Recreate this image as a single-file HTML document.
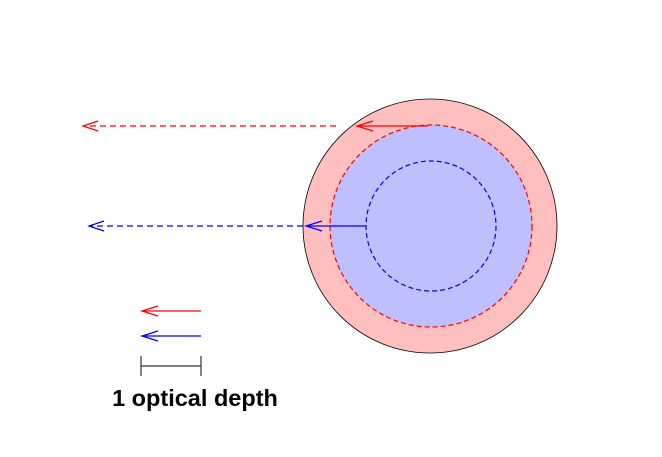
<!DOCTYPE html>
<html><head><style>body{margin:0;background:#fff}svg{display:block}</style></head>
<body>
<svg width="662" height="457" viewBox="0 0 662 457" xmlns="http://www.w3.org/2000/svg">
<circle cx="430" cy="226" r="127" fill="#ffbfbf" stroke="#000" stroke-width="0.8"/>
<circle cx="431" cy="226" r="101" fill="#bfbfff" stroke="#f00" stroke-width="1.2" stroke-dasharray="5,3"/>
<circle cx="431" cy="226" r="65" fill="none" stroke="#00f" stroke-width="1.2" stroke-dasharray="5,3"/>
<g fill="none" stroke-width="1.2">
<line x1="428" y1="126" x2="357" y2="126" stroke="#f00"/>
<polyline points="373,121 357,126 373,131" stroke="#f00"/>
<line x1="336" y1="126" x2="83" y2="126" stroke="#f00" stroke-dasharray="6,4"/>
<polyline points="98,121 83,126 98,131" stroke="#f00"/>
<line x1="366" y1="226" x2="306" y2="226" stroke="#00f"/>
<polyline points="322,221 306,226 322,231" stroke="#00f"/>
<line x1="303" y1="226" x2="89" y2="226" stroke="#00f" stroke-dasharray="6,4"/>
<polyline points="104,221 89,226 104,231" stroke="#00f"/>
<line x1="201" y1="311" x2="142" y2="311" stroke="#f00"/>
<polyline points="158,306 142,311 158,316" stroke="#f00"/>
<line x1="201" y1="336" x2="142" y2="336" stroke="#00f"/>
<polyline points="158,331 142,336 158,341" stroke="#00f"/>
<line x1="141" y1="366" x2="201" y2="366" stroke="#333"/>
<line x1="141" y1="356" x2="141" y2="376" stroke="#333"/>
<line x1="201" y1="356" x2="201" y2="376" stroke="#333"/>
</g>
<text x="195" y="406" text-anchor="middle" font-family="Liberation Sans, sans-serif" font-weight="bold" font-size="23.5">1 optical depth</text>
</svg>
</body></html>
